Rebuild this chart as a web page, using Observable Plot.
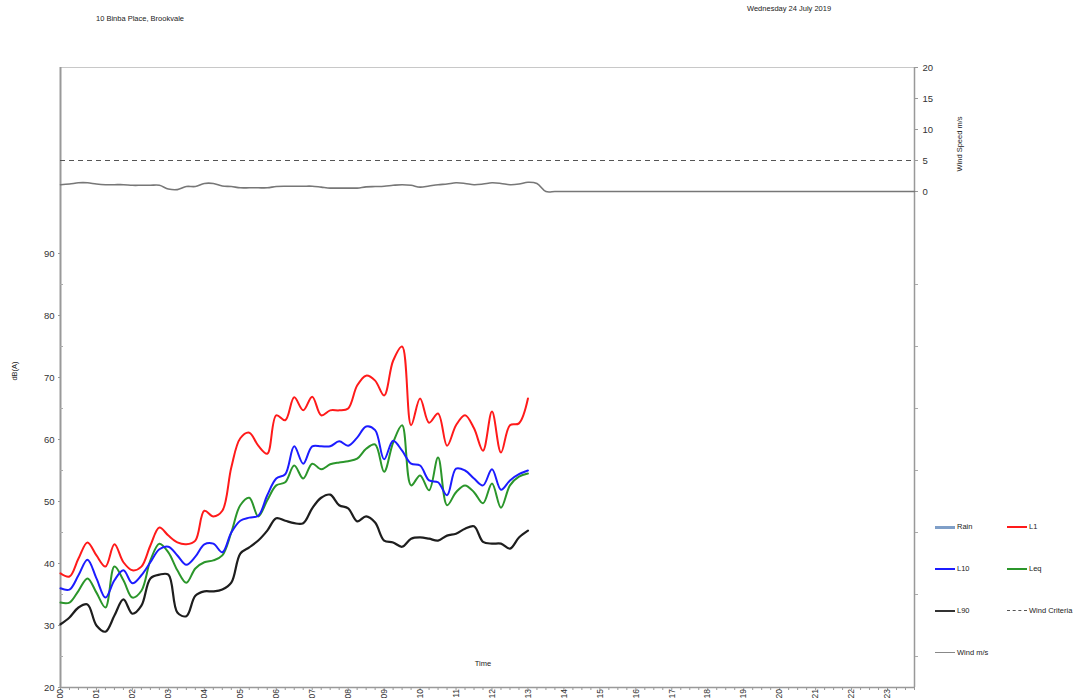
<!DOCTYPE html>
<html>
<head>
<meta charset="utf-8">
<script src="https://cdn.jsdelivr.net/npm/d3@7"></script>
<script src="https://cdn.jsdelivr.net/npm/@observablehq/plot@0.6"></script>
<style>
  body { margin: 0; background: #fff; font-family: "Liberation Sans", Arial, sans-serif; }
  #wrap { position: relative; width: 1078px; height: 698px; overflow: hidden; }
  .t { position: absolute; font-size: 7.5px; color: #222; white-space: nowrap; line-height: 1; }
  .c { transform: translate(-50%, -50%); }
  .rot { transform: translate(-50%, -50%) rotate(-90deg); }
  .key { position: absolute; width: 20px; height: 0; }
  .lab { position: absolute; font-size: 7.5px; color: #222; transform: translateY(-50%); line-height: 1; white-space: nowrap; }
</style>
</head>
<body>
<div id="wrap"></div>
<script>
// Monitoring location and day
const siteName = "10 Binba Place, Brookvale";
const dayLabel = "Wednesday 24 July 2019";

// Logging interval (hours) – one reading every 15 minutes
const intervalHours = 0.25;
const dayEnd = 23.75;

// Hour labels along the time axis
const hourLabels = ["00","01","02","03","04","05","06","07","08","09","10","11",
                    "12","13","14","15","16","17","18","19","20","21","22","23"];

// Noise statistics, dB(A), 00:00 to 13:00 in 15-minute steps
const l1 = [38.4, 37.9, 40.8, 43.4, 41.3, 39.5, 43.1, 40.2, 38.9, 39.5, 42.9, 45.8, 44.5, 43.4,
            43.1, 43.7, 48.5, 47.6, 48.5, 55.5, 60.2, 61.1, 59.0, 57.7, 63.9, 63.1, 66.8, 64.7,
            66.9, 63.9, 64.7, 64.7, 65.0, 68.7, 70.3, 69.5, 67.1, 72.7, 75.0, 62.3, 66.6, 62.7,
            64.2, 59.0, 62.3, 63.9, 61.8, 58.2, 64.5, 57.9, 62.3, 62.6, 66.6];
const l10 = [36.0, 35.8, 38.1, 40.6, 37.6, 34.5, 37.3, 38.9, 36.8, 38.1, 40.2, 42.3, 42.7, 41.3,
             39.8, 41.1, 43.1, 43.2, 41.8, 45.0, 46.9, 47.4, 47.7, 51.0, 53.7, 54.4, 58.9, 56.1,
             58.9, 58.9, 58.9, 59.7, 59.0, 60.3, 62.1, 61.5, 56.8, 59.8, 58.2, 56.1, 55.8, 53.4,
             53.1, 51.0, 55.3, 55.0, 53.7, 52.6, 55.2, 51.9, 53.4, 54.4, 55.0];
const leq = [33.7, 33.7, 35.6, 37.6, 35.3, 32.9, 39.5, 37.3, 34.5, 35.6, 40.5, 43.2, 41.8, 38.9,
             36.9, 39.2, 40.2, 40.5, 41.3, 45.0, 49.4, 50.6, 47.6, 50.2, 52.6, 53.1, 55.8, 53.7,
             56.1, 55.2, 56.0, 56.3, 56.5, 56.9, 58.5, 59.2, 54.8, 59.5, 62.3, 52.6, 54.2, 51.8,
             57.1, 49.4, 51.5, 52.6, 51.5, 49.7, 52.9, 49.0, 52.6, 54.0, 54.5];
const l90 = [30.2, 31.3, 32.9, 33.4, 30.0, 29.0, 31.6, 34.2, 31.9, 33.2, 37.6, 38.2, 38.2, 32.1,
             31.5, 34.8, 35.5, 35.5, 35.8, 36.9, 41.6, 42.6, 43.7, 45.3, 47.3, 46.9, 46.5, 46.5,
             48.9, 50.6, 51.1, 49.4, 48.9, 46.8, 47.6, 46.6, 43.7, 43.4, 42.7, 44.0, 44.2, 44.0,
             43.7, 44.5, 44.8, 45.6, 46.0, 43.5, 43.2, 43.2, 42.4, 44.2, 45.3];

// Wind speed, m/s, whole day in 15-minute steps
const windSpeed = [1.1, 1.2, 1.4, 1.4, 1.2, 1.1, 1.1, 1.1, 1.0, 1.0, 1.0, 1.0, 0.4, 0.3,
                   0.8, 0.8, 1.3, 1.3, 0.9, 0.8, 0.6, 0.6, 0.6, 0.6, 0.8, 0.85, 0.85, 0.85,
                   0.85, 0.7, 0.55, 0.55, 0.55, 0.55, 0.75, 0.8, 0.85, 1.0, 1.1, 1.0, 0.7, 0.9,
                   1.1, 1.2, 1.4, 1.3, 1.1, 1.2, 1.4, 1.3, 1.1, 1.2, 1.5, 1.3,
                   0, 0, 0, 0, 0, 0, 0, 0, 0, 0, 0, 0, 0, 0, 0, 0, 0, 0, 0, 0, 0,
                   0, 0, 0, 0, 0, 0, 0, 0, 0, 0, 0, 0, 0, 0, 0, 0, 0, 0, 0, 0, 0];
const windCriteria = 5;

// Axis ticks
const dbTicks = [20, 30, 40, 50, 60, 70, 80, 90];
const dbMinorTicks = [25, 35, 45, 55, 65, 75, 85];
const windTicks = [0, 5, 10, 15, 20];

// The wind axis shares the vertical space: 0–20 m/s sits at the top of the dB range
const dbDomain = [20, 120];
const windToDb = d3.scaleLinear().domain([0, 20]).range([100, 120]);

const time = (d, i) => i * intervalHours;

const series = [
  {values: l90, color: "#1e1e1e", width: 2.2},
  {values: leq, color: "#2b962b", width: 2},
  {values: l10, color: "#1c1cff", width: 2},
  {values: l1,  color: "#ff1a1a", width: 2}
];

const chart = Plot.plot({
  width: 1078,
  height: 698,
  marginLeft: 60,
  marginRight: 164,
  marginTop: 67,
  marginBottom: 11,
  x: {domain: [0, dayEnd]},
  y: {domain: dbDomain},
  style: {fontFamily: "'Liberation Sans', Arial, sans-serif", fontSize: "9.5px", color: "#333", background: "transparent"},
  marks: [
    // plot border
    Plot.ruleY([dbDomain[1]], {stroke: "#c8c8c8", strokeWidth: 1.2}),
    Plot.ruleY([dbDomain[0]], {stroke: "#999", strokeWidth: 1.5}),
    Plot.ruleX([0], {stroke: "#999", strokeWidth: 2}),
    Plot.ruleX([dayEnd], {stroke: "#999", strokeWidth: 1.5}),

    // left dB(A) axis
    Plot.axisY(dbTicks, {anchor: "left", tickSize: 2, tickPadding: 4, label: null, stroke: "#999"}),
    Plot.axisY(dbMinorTicks, {anchor: "left", tickSize: -3, text: null, label: null, stroke: "#aaa"}),

    // right wind axis
    Plot.axisY(windTicks.map(w => windToDb(w)), {
      anchor: "right", tickSize: 3, tickPadding: 5, label: null, stroke: "#999",
      tickFormat: d => String(Math.round(windToDb.invert(d)))
    }),
    Plot.axisY(dbMinorTicks, {anchor: "right", tickSize: 3, text: null, label: null, stroke: "#aaa"}),

    // time axis: quarter-hour ticks and rotated hour labels
    Plot.axisX(d3.range(0, dayEnd + 1e-9, intervalHours), {anchor: "bottom", tickSize: 3, text: null, label: null, stroke: "#999"}),
    Plot.text(hourLabels, {
      x: (d, i) => i, y: dbDomain[0], text: d => d,
      rotate: -90, textAnchor: "end", lineAnchor: "middle", dy: 1.5,
      fontSize: 8.5, fill: "#333"
    }),

    // wind criteria and wind speed
    Plot.ruleY([windToDb(windCriteria)], {stroke: "#555", strokeWidth: 1.2, strokeDasharray: "5,4"}),
    Plot.line(windSpeed, {x: time, y: d => windToDb(d), stroke: "#777", strokeWidth: 1.6, curve: "catmull-rom"}),

    // noise statistics
    ...series.map(s => Plot.line(s.values, {
      x: time, y: d => d, stroke: s.color, strokeWidth: s.width, curve: "catmull-rom"
    }))
  ]
});

const wrap = document.getElementById("wrap");
wrap.appendChild(chart);

function addText(text, cls, left, top, extra) {
  const el = document.createElement("div");
  el.className = cls;
  el.textContent = text;
  el.style.left = left + "px";
  el.style.top = top + "px";
  if (extra) Object.assign(el.style, extra);
  wrap.appendChild(el);
}

// header
addText(siteName, "t", 96, 15);
addText(dayLabel, "t", 747, 5);

// axis titles
addText("dB(A)", "t rot", 15, 371);
addText("Wind Speed m/s", "t rot", 960, 144);
addText("Time", "t c", 483, 664);

// legend
const legendItems = [
  {label: "Rain",          col: 0, row: 0, style: {borderTop: "3px solid #7f9fc8"}},
  {label: "L1",            col: 1, row: 0, style: {borderTop: "2px solid #ff1a1a"}},
  {label: "L10",           col: 0, row: 1, style: {borderTop: "2px solid #1c1cff"}},
  {label: "Leq",           col: 1, row: 1, style: {borderTop: "2px solid #2b962b"}},
  {label: "L90",           col: 0, row: 2, style: {borderTop: "2.5px solid #333"}},
  {label: "Wind Criteria", col: 1, row: 2, style: {borderTop: "1.2px dashed #555"}},
  {label: "Wind m/s",      col: 0, row: 3, style: {borderTop: "1.5px solid #888"}}
];
const legendX = [935, 1007];
const legendY = [527, 569, 611, 653];
for (const item of legendItems) {
  const x = legendX[item.col], y = legendY[item.row];
  const line = document.createElement("div");
  line.className = "key";
  line.style.left = x + "px";
  line.style.top = (y - 1) + "px";
  Object.assign(line.style, item.style);
  wrap.appendChild(line);
  addText(item.label, "lab", x + 22, y);
}
</script>
</body>
</html>
